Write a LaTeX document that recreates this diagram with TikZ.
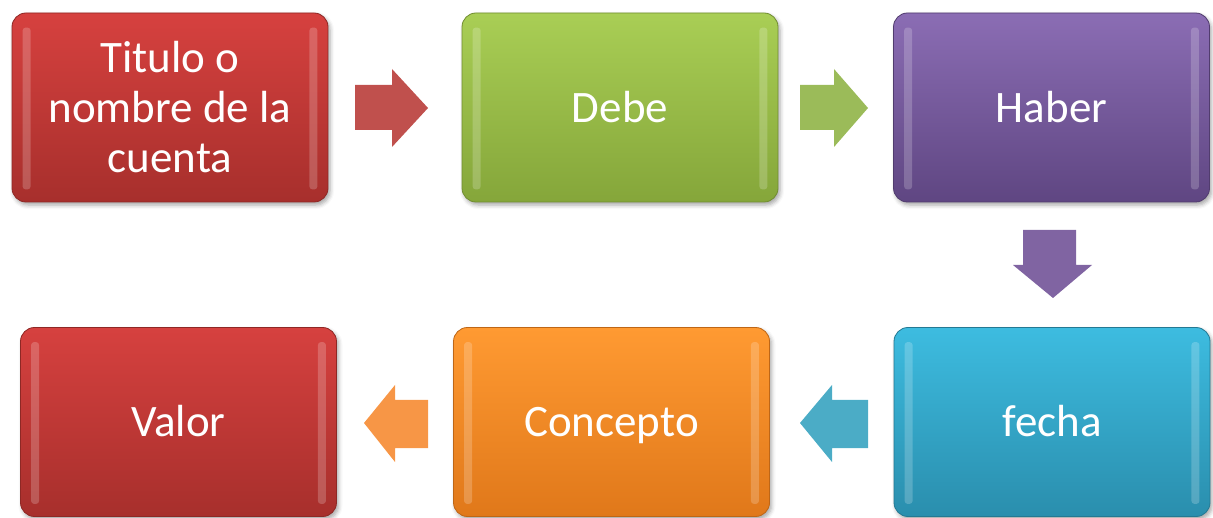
\documentclass[tikz,border=0pt]{standalone}
\usepackage{fontspec}
\setmainfont{Carlito}
\usetikzlibrary{shadows.blur,calc}
\definecolor{redT}{HTML}{D6413F}\definecolor{redB}{HTML}{A72F2C}\definecolor{redA}{HTML}{C0504D}
\definecolor{grnT}{HTML}{A9CE55}\definecolor{grnB}{HTML}{85A63A}\definecolor{grnA}{HTML}{9BBB59}
\definecolor{purT}{HTML}{8B6DB4}\definecolor{purB}{HTML}{5F4682}\definecolor{purA}{HTML}{8064A2}
\definecolor{cyaT}{HTML}{3DBCE0}\definecolor{cyaB}{HTML}{2A8EAD}\definecolor{cyaA}{HTML}{4BACC6}
\definecolor{oraT}{HTML}{FF9A32}\definecolor{oraB}{HTML}{E0781A}\definecolor{oraA}{HTML}{F79646}
\begin{document}
\begin{tikzpicture}[x=1pt,y=-1pt,
  box/.style={rounded corners=14pt, minimum width=316pt, minimum height=189pt, inner sep=0pt,
    text=white, font=\fontsize{45}{50}\selectfont, align=center, line width=0.8pt,
    blur shadow={shadow xshift=2pt, shadow yshift=-3pt, shadow blur radius=4pt, shadow opacity=35}},
  oneline/.style={text height=30pt, text depth=0pt},
  shine/.style={fill=white, opacity=0.2, rounded corners=3pt},
  blockarrow/.style={line width=0pt}
]
\useasboundingbox (0,0) rectangle (1213,518);
% boxes
\node[box, top color=redT, bottom color=redB, draw=redB!85!black] (b1) at (170,107.5) {Titulo o\\nombre de la\\cuenta};
\node[box, oneline, top color=grnT, bottom color=grnB, draw=grnB!85!black] (b2) at (620,107.5) {Debe};
\node[box, oneline, top color=purT, bottom color=purB, draw=purB!85!black] (b3) at (1051.5,107.5) {Haber};
\node[box, oneline, top color=cyaT, bottom color=cyaB, draw=cyaB!85!black] (b6) at (1052,422) {fecha};
\node[box, oneline, top color=oraT, bottom color=oraB, draw=oraB!85!black] (b5) at (611.5,422) {Concepto};
\node[box, oneline, top color=redT, bottom color=redB, draw=redB!85!black] (b4) at (178.5,422) {Valor};
% edge highlights
\foreach \b in {b1,b2,b3,b4,b5,b6}{
  \fill[shine] ($(\b.north west)+(11,15)$) rectangle ($(\b.south west)+(19,-13)$);
  \fill[shine] ($(\b.north east)+(-19,15)$) rectangle ($(\b.south east)+(-11,-13)$);
}
% block arrows
\fill[redA, blockarrow] (355,85) -- (392,85) -- (392,69) -- (428,108) -- (392,147) -- (392,130) -- (355,130) -- cycle;
\fill[grnA, blockarrow] (800,85) -- (834,85) -- (834,69) -- (868,108) -- (834,147) -- (834,130) -- (800,130) -- cycle;
\fill[purA, blockarrow] (1023,230) -- (1076,230) -- (1076,265) -- (1092,265) -- (1053,298) -- (1013,265) -- (1023,265) -- cycle;
\fill[cyaA, blockarrow] (868,400) -- (832,400) -- (832,385) -- (800,423) -- (832,462) -- (832,448) -- (868,448) -- cycle;
\fill[oraA, blockarrow] (428,400) -- (395,400) -- (395,385) -- (364,423) -- (395,462) -- (395,448) -- (428,448) -- cycle;
\end{tikzpicture}
\end{document}
